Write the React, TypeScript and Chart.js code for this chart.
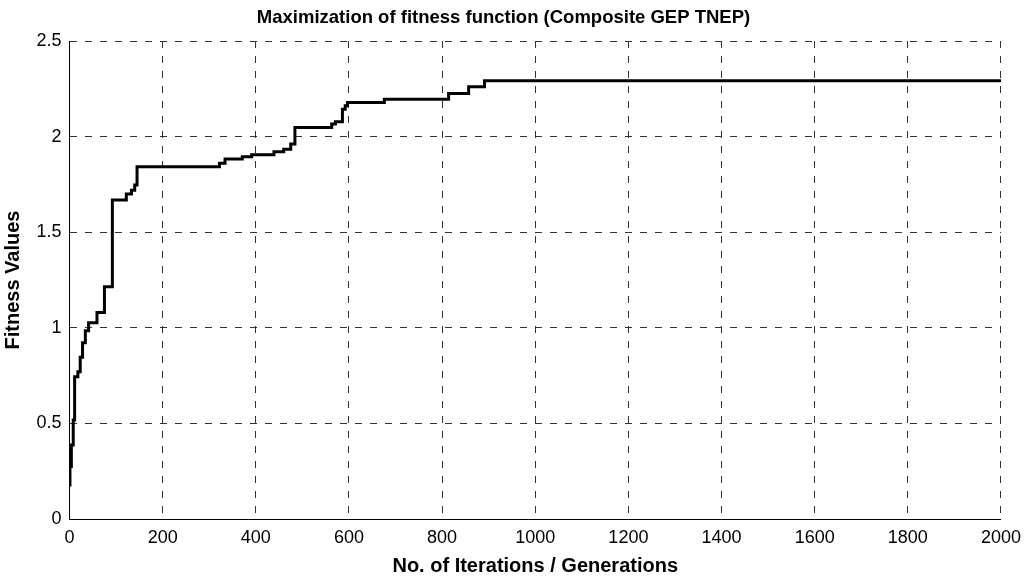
import React, { useEffect, useRef } from "react";
import { Chart, registerables } from "chart.js";

Chart.register(...registerables);

// Iteration at which the best fitness changes, and the new best value
const iterations = [
  0, 1, 4, 8, 11, 18, 23, 28, 34, 41,
  59, 75, 92, 122, 133, 140, 145,
  322, 334, 371, 391, 439, 460, 475, 484,
  563, 571, 586, 592, 597, 676,
  814, 857, 891, 2000,
];
const fitness = [
  0.178, 0.274, 0.387, 0.518, 0.744, 0.77, 0.846, 0.922, 0.985, 1.027,
  1.08, 1.215, 1.668, 1.7, 1.72, 1.747, 1.842,
  1.86, 1.883, 1.895, 1.905, 1.921, 1.934, 1.961, 2.047,
  2.066, 2.078, 2.143, 2.162, 2.179, 2.195,
  2.226, 2.261, 2.292, 2.292,
];
const xTicks = [0, 200, 400, 600, 800, 1000, 1200, 1400, 1600, 1800, 2000];
const yTicks = [0, 0.5, 1, 1.5, 2, 2.5];

const titleText = "Maximization of fitness function (Composite GEP TNEP)";
const xTitle = "No. of Iterations / Generations";
const yTitle = "Fitness Values";

const FONT = "'Liberation Sans', Arial, Helvetica, sans-serif";

export default function App() {
  const ref = useRef<HTMLCanvasElement | null>(null);

  useEffect(() => {
    if (!ref.current) return;
    const points = iterations.map((x, i) => ({ x, y: fitness[i] }));
    const chart = new Chart(ref.current, {
      type: "line",
      data: {
        datasets: [
          {
            data: points,
            borderColor: "#000",
            borderWidth: 3,
            pointRadius: 0,
            stepped: "before",
            fill: false,
            borderJoinStyle: "miter",
            borderCapStyle: "butt",
          },
        ],
      },
      options: {
        responsive: false,
        animation: false,
        devicePixelRatio: 1,
        layout: { padding: { left: 0, right: 22, top: 0, bottom: 0 } },
        plugins: {
          legend: { display: false },
          tooltip: { enabled: false },
          title: {
            display: true,
            text: titleText,
            color: "#000",
            font: { family: FONT, size: 18.5, weight: "bold", lineHeight: 1.2 },
            padding: { top: 7, bottom: 11.8 },
          },
        },
        scales: {
          x: {
            type: "linear",
            min: 0,
            max: 2000,
            afterBuildTicks: (s: any) => {
              s.ticks = xTicks.map((v) => ({ value: v }));
            },
            afterFit: (s: any) => {
              s.height = 61;
            },
            ticks: {
              color: "#000",
              font: { family: FONT, size: 18 },
              padding: 8,
              maxRotation: 0,
              autoSkip: false,
              callback: (v: any) => String(v),
            },
            grid: { color: "#333", lineWidth: 1, drawTicks: false },
            border: { display: true, color: "#000", width: 1, dash: [7, 8] },
            title: {
              display: true,
              text: xTitle,
              color: "#000",
              font: { family: FONT, size: 20, weight: "bold" },
              padding: { top: 0, bottom: 2 },
            },
          },
          y: {
            type: "linear",
            min: 0,
            max: 2.5,
            afterBuildTicks: (s: any) => {
              s.ticks = yTicks.map((v) => ({ value: v }));
            },
            afterFit: (s: any) => {
              s.width = 69.5;
            },
            ticks: {
              color: "#000",
              font: { family: FONT, size: 18 },
              padding: 8,
              callback: (v: any) => String(v),
            },
            grid: { color: "#333", lineWidth: 1, drawTicks: false },
            border: { display: true, color: "#000", width: 1, dash: [7, 8] },
            title: {
              display: true,
              text: yTitle,
              color: "#000",
              font: { family: FONT, size: 20, weight: "bold" },
              padding: { top: 1, bottom: 0 },
            },
          },
        },
      },
    });
    return () => chart.destroy();
  }, []);

  return (
    <div style={{ position: "absolute", left: 0, top: 0, width: 1029, height: 580, background: "#fff" }}>
      <canvas ref={ref} width={1029} height={580} style={{ width: 1029, height: 580, display: "block" }} />
    </div>
  );
}
